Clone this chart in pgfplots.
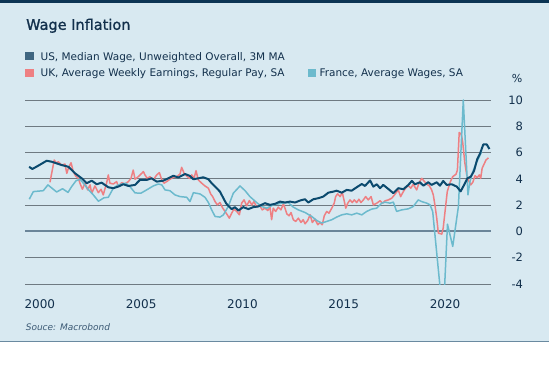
\documentclass[border=0pt]{standalone}
\usepackage{pgfplots}
\pgfplotsset{compat=1.18}
\usepackage{fontspec}
\setmainfont{DejaVu Sans}
\newfontfamily\titlefont[FakeBold=1.2]{DejaVu Sans}
\definecolor{bg}{HTML}{D8E9F1}
\definecolor{topbar}{HTML}{0C3554}
\definecolor{bord}{HTML}{6A8AA0}
\definecolor{txt}{HTML}{12304C}
\definecolor{src}{HTML}{3C5A75}
\definecolor{gridc}{HTML}{6F7A82}
\definecolor{zeroc}{HTML}{6B8599}
\definecolor{usc}{HTML}{0B4A6E}
\definecolor{ukc}{HTML}{EE8083}
\definecolor{frc}{HTML}{6CBACD}
\definecolor{uslg}{HTML}{3F6681}
\begin{document}
\begin{tikzpicture}[x=1bp,y=1bp]
\useasboundingbox (0,0) rectangle (549,383);
\fill[white] (0,0) rectangle (549,383);
\fill[bg] (0,41) rectangle (549,383);
\fill[topbar] (0,379.5) rectangle (549,383);
\draw[bord, line width=1.5bp] (0,41.75) -- (549,41.75);
% title
\node[anchor=base west, inner sep=0, text=txt, font=\titlefont\fontsize{14.5bp}{16bp}\selectfont] at (26,353.2) {Wage Inflation};
% legend
\fill[uslg] (25.3,322.6) rectangle (34,331);
\node[anchor=base west, inner sep=0, text=txt, font=\fontsize{10.5bp}{12bp}\selectfont] at (40.4,322.6) {US, Median Wage, Unweighted Overall, 3M MA};
\fill[ukc] (25.3,305.8) rectangle (34,314.2);
\node[anchor=base west, inner sep=0, text=txt, font=\fontsize{10.5bp}{12bp}\selectfont] at (40.4,306.5) {UK, Average Weekly Earnings, Regular Pay, SA};
\fill[frc] (307.7,305.8) rectangle (315.8,314.2);
\node[anchor=base west, inner sep=0, text=txt, font=\fontsize{10.5bp}{12bp}\selectfont] at (319.3,306.5) {France, Average Wages, SA};
\node[anchor=base east, inner sep=0, text=txt, font=\fontsize{11bp}{12bp}\selectfont] at (522.5,300.5) {\%};
% source
\node[anchor=base west, inner sep=0, text=src, font=\fontsize{9bp}{10bp}\selectfont\itshape] at (25.6,53) {Souce: Macrobond};
\begin{axis}[
  at={(25bp,99bp)}, anchor=south west,
  width=466bp, height=184bp, scale only axis,
  xmin=1999.768, xmax=2022.769, ymin=-4, ymax=10,
  ytick={-4,-2,0,2,4,6,8,10},
  xtick={2000.5,2005.5,2010.5,2015.5,2020.5},
  xticklabels={2000,2005,2010,2015,2020},
  axis line style={draw=none}, major tick length=0pt,
  ymajorgrids, grid style={gridc, line width=0.9bp},
  yticklabel pos=right,
  /pgf/number format/assume math mode=true,
  yticklabel style={anchor=east, xshift=35.5bp, text=txt, font=\fontsize{11.5bp}{12bp}\selectfont},
  xticklabel style={anchor=north, yshift=-12bp, text=txt, font=\fontsize{12bp}{13bp}\selectfont},
  clip=true,
]
\addplot[zeroc, line width=2bp, forget plot] coordinates {(1999.768,0) (2022.769,0)};
\addplot[ukc, line width=1.5bp, line join=round] coordinates {
(2001.00,3.74) (2001.21,5.43) (2001.33,5.18) (2001.41,5.30) (2001.58,5.05) (2001.74,5.13) (2001.83,4.42) (2001.91,4.80) (2002.04,5.23) (2002.15,4.55) (2002.27,4.22) (2002.40,4.04) (2002.48,3.67) (2002.60,3.21) (2002.73,3.67) (2002.86,3.16) (2002.98,3.54) (2003.06,2.91) (2003.22,3.46) (2003.39,2.95) (2003.52,3.21) (2003.63,2.78) (2003.80,3.71) (2003.88,4.30) (2003.96,3.67) (2004.13,3.61) (2004.29,3.79) (2004.37,3.41) (2004.54,3.71) (2004.70,3.61) (2004.87,3.79) (2005.00,4.04) (2005.11,4.67) (2005.20,3.97) (2005.36,4.17) (2005.53,4.42) (2005.61,4.55) (2005.69,4.30) (2005.80,4.04) (2005.94,4.17) (2006.10,3.92) (2006.27,4.30) (2006.40,4.47) (2006.52,3.92) (2006.63,3.67) (2006.76,3.79) (2006.92,3.97) (2007.09,4.12) (2007.26,4.17) (2007.42,4.37) (2007.50,4.88) (2007.62,4.42) (2007.75,4.22) (2007.88,4.04) (2008.00,4.30) (2008.11,4.04) (2008.21,4.62) (2008.32,3.92) (2008.49,3.67) (2008.65,3.46) (2008.82,3.29) (2008.93,2.86) (2009.03,2.65) (2009.15,2.27) (2009.26,2.02) (2009.39,2.20) (2009.53,1.77) (2009.64,1.52) (2009.75,1.27) (2009.85,1.01) (2009.97,1.39) (2010.08,1.70) (2010.22,1.52) (2010.35,1.27) (2010.46,2.15) (2010.58,2.40) (2010.71,1.95) (2010.84,2.35) (2010.96,2.02) (2011.07,2.27) (2011.20,1.85) (2011.33,2.02) (2011.48,1.64) (2011.61,1.77) (2011.75,1.59) (2011.86,1.85) (2011.94,0.89) (2012.02,1.77) (2012.14,1.52) (2012.27,1.85) (2012.40,1.64) (2012.52,2.10) (2012.60,1.77) (2012.69,1.34) (2012.80,1.19) (2012.90,1.44) (2013.01,0.89) (2013.13,0.76) (2013.26,1.01) (2013.39,0.68) (2013.50,0.89) (2013.59,0.58) (2013.72,0.83) (2013.84,1.27) (2013.95,0.68) (2014.08,0.94) (2014.22,0.51) (2014.33,0.68) (2014.44,0.51) (2014.54,1.19) (2014.66,1.52) (2014.77,1.39) (2014.91,1.77) (2015.03,2.15) (2015.10,2.65) (2015.20,2.86) (2015.32,2.65) (2015.43,2.95) (2015.53,2.27) (2015.60,1.77) (2015.70,2.15) (2015.81,2.40) (2015.92,2.20) (2016.02,2.40) (2016.14,2.20) (2016.25,2.45) (2016.35,2.20) (2016.47,2.40) (2016.58,2.65) (2016.71,2.40) (2016.85,2.65) (2016.96,2.02) (2017.13,2.15) (2017.29,2.33) (2017.42,2.15) (2017.54,2.33) (2017.70,2.40) (2017.87,2.53) (2018.03,2.83) (2018.19,3.16) (2018.31,2.65) (2018.44,3.03) (2018.57,3.33) (2018.69,3.48) (2018.81,3.29) (2018.93,3.59) (2019.10,3.16) (2019.23,3.74) (2019.35,4.04) (2019.46,3.84) (2019.60,3.59) (2019.72,3.48) (2019.84,3.16) (2019.92,2.78) (2020.00,2.02) (2020.09,1.01) (2020.17,-0.13) (2020.34,-0.20) (2020.41,0.26) (2020.50,1.52) (2020.61,3.03) (2020.75,3.74) (2020.88,4.17) (2021.04,4.35) (2021.11,4.67) (2021.20,7.53) (2021.30,7.38) (2021.37,6.82) (2021.47,5.30) (2021.57,4.30) (2021.67,3.84) (2021.77,3.54) (2021.87,3.74) (2021.98,4.24) (2022.09,4.09) (2022.19,4.30) (2022.26,4.04) (2022.33,4.80) (2022.42,5.10) (2022.52,5.43) (2022.64,5.60)
};
\addplot[frc, line width=1.5bp, line join=round] coordinates {
(1999.98,2.45) (2000.18,3.03) (2000.67,3.10) (2000.90,3.54) (2001.33,3.00) (2001.62,3.25) (2001.89,2.97) (2002.07,3.41) (2002.29,3.86) (2002.48,3.97) (2002.65,3.67) (2002.88,3.21) (2003.14,2.78) (2003.39,2.30) (2003.67,2.56) (2003.88,2.60) (2004.13,3.30) (2004.37,3.54) (2004.74,3.67) (2004.95,3.41) (2005.20,2.93) (2005.49,2.91) (2005.77,3.16) (2006.10,3.46) (2006.35,3.61) (2006.52,3.54) (2006.68,3.16) (2006.92,3.10) (2007.17,2.78) (2007.42,2.65) (2007.75,2.60) (2007.91,2.27) (2008.08,2.95) (2008.41,2.85) (2008.65,2.60) (2008.82,2.20) (2008.98,1.64) (2009.15,1.14) (2009.39,1.09) (2009.56,1.26) (2009.80,1.90) (2010.05,2.91) (2010.38,3.46) (2010.63,3.10) (2010.87,2.65) (2011.20,2.20) (2011.45,1.90) (2011.70,1.77) (2012.02,2.02) (2012.44,2.15) (2012.76,2.20) (2013.01,1.85) (2013.26,1.64) (2013.59,1.44) (2013.92,1.14) (2014.17,0.83) (2014.41,0.64) (2014.66,0.76) (2014.91,0.89) (2015.15,1.09) (2015.40,1.26) (2015.65,1.34) (2015.89,1.26) (2016.14,1.39) (2016.39,1.26) (2016.63,1.52) (2016.88,1.70) (2017.13,1.77) (2017.37,2.15) (2017.54,2.23) (2017.78,2.15) (2017.95,2.23) (2018.11,1.52) (2018.36,1.64) (2018.69,1.72) (2018.93,1.90) (2019.18,2.40) (2019.35,2.27) (2019.60,2.15) (2019.76,2.02) (2019.89,1.52) (2020.27,-4.5) (2020.47,-4.5) (2020.62,0.55) (2020.88,-1.14) (2021.16,1.90) (2021.40,10.0) (2021.63,2.78) (2021.73,3.79) (2021.87,4.55) (2022.04,5.20) (2022.19,5.68) (2022.31,6.06)
};
\addplot[usc, line width=2bp, line join=round] coordinates {
(1999.97,4.92) (2000.13,4.75) (2000.42,5.0) (2000.84,5.38) (2001.09,5.3) (2001.33,5.18) (2001.58,5.05) (2001.91,4.92) (2002.24,4.42) (2002.57,4.04) (2002.81,3.67) (2003.06,3.86) (2003.31,3.59) (2003.55,3.71) (2003.88,3.36) (2004.13,3.29) (2004.37,3.41) (2004.62,3.59) (2004.87,3.46) (2005.20,3.54) (2005.44,3.92) (2005.77,3.92) (2006.02,4.04) (2006.27,3.79) (2006.59,3.86) (2006.84,4.04) (2007.09,4.24) (2007.33,4.10) (2007.67,4.37) (2007.91,4.22) (2008.08,3.97) (2008.32,4.04) (2008.57,4.12) (2008.82,3.97) (2008.98,3.67) (2009.23,3.29) (2009.39,3.03) (2009.56,2.53) (2009.69,2.15) (2009.80,1.95) (2009.97,1.70) (2010.13,1.85) (2010.30,1.59) (2010.54,1.85) (2010.79,1.70) (2011.04,1.85) (2011.28,1.90) (2011.61,2.15) (2011.86,2.02) (2012.11,2.10) (2012.35,2.27) (2012.60,2.20) (2012.85,2.27) (2013.10,2.20) (2013.34,2.35) (2013.59,2.45) (2013.75,2.20) (2014.00,2.45) (2014.25,2.53) (2014.49,2.65) (2014.74,2.95) (2014.99,3.03) (2015.15,3.10) (2015.40,2.95) (2015.65,3.16) (2015.89,3.10) (2016.14,3.36) (2016.39,3.61) (2016.55,3.46) (2016.80,3.88) (2016.96,3.41) (2017.13,3.59) (2017.29,3.29) (2017.45,3.54) (2017.70,3.23) (2017.95,2.91) (2018.19,3.29) (2018.44,3.21) (2018.69,3.54) (2018.86,3.84) (2019.02,3.59) (2019.26,3.74) (2019.43,3.48) (2019.67,3.74) (2019.84,3.54) (2020.09,3.74) (2020.25,3.48) (2020.41,3.84) (2020.58,3.54) (2020.83,3.59) (2021.08,3.41) (2021.27,3.05) (2021.44,3.54) (2021.60,4.04) (2021.77,4.17) (2021.93,4.60) (2022.09,5.51) (2022.23,5.94) (2022.39,6.62) (2022.56,6.62) (2022.69,6.27)
};
\end{axis}
\end{tikzpicture}
\end{document}
